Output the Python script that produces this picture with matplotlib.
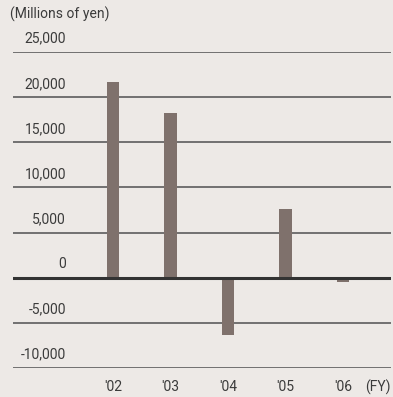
import matplotlib
matplotlib.use("Agg")
import matplotlib.pyplot as plt
import matplotlib.transforms as mtransforms

years = ["'02", "'03", "'04", "'05", "'06"]
values = [21700, 18200, -6300, 7600, -500]
grid_levels = [25000, 20000, 15000, 10000, 5000, 0, -5000, -10000]
grid_labels = ["25,000", "20,000", "15,000", "10,000", "5,000", "0", "-5,000", "-10,000"]

bg = "#ede9e6"
bar_color = "#7f716c"
text_color = "#3b3b3b"

plt.rcParams["font.family"] = ["Roboto", "DejaVu Sans"]

fig = plt.figure(figsize=(3.93, 3.97), dpi=100, facecolor=bg)
ax = fig.add_axes([13 / 393, 29 / 397, 378 / 393, 316 / 397])
ax.set_facecolor(bg)
ax.set_xlim(-1.739, 4.835)
ax.set_ylim(-10000, 25000)
for s in ax.spines.values():
    s.set_visible(False)
ax.set_xticks([])
ax.set_yticks([])

for lvl in grid_levels:
    if lvl == 0:
        ax.axhline(lvl, color="#333333", lw=2.2, zorder=3)
    else:
        ax.axhline(lvl, color="#505050", lw=1.1, zorder=1)

ax.bar(range(len(years)), values, width=0.21, color=bar_color, zorder=2)

trans = mtransforms.blended_transform_factory(ax.transAxes, ax.transData)
for lvl, lab in zip(grid_levels, grid_labels):
    ax.text(53 / 378, lvl + 700, lab, transform=trans, ha="right", va="bottom",
            fontsize=10, color=text_color, clip_on=False)

for i, yr in enumerate(years):
    ax.text(i, -11300, yr, ha="center", va="top", fontsize=10,
            color=text_color, clip_on=False)
ax.text(0.998, -11300, "(FY)", transform=trans, ha="right", va="top",
        fontsize=10, color=text_color, clip_on=False)

fig.text(10 / 393, 1 - 14 / 397, "(Millions of yen)", ha="left", va="center",
         fontsize=10, color=text_color)

fig.savefig("out.png", dpi=100, facecolor=bg)
